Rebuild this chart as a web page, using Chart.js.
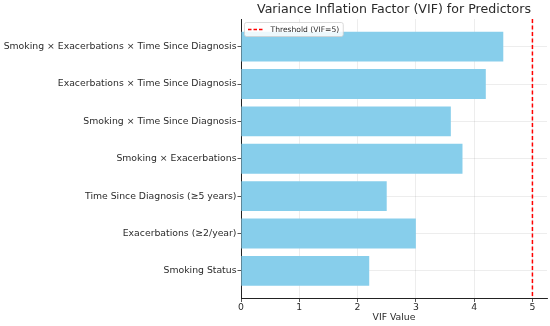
<!DOCTYPE html>
<html lang="en">
<head>
    <meta charset="UTF-8">
    <title>VIF for Predictors</title>
    <script src="https://cdn.jsdelivr.net/npm/chart.js"></script>
    <style>
        html, body {
            margin: 0;
            padding: 0;
            background: #fff;
        }
        .chart-box {
            width: 550px;
            height: 326px;
        }
    </style>
</head>
<body>

    <div class="chart-box">
        <canvas id="vifChart" width="550" height="326"></canvas>
    </div>

    <script>
        // data, bottom to top like the original plot
        const predictors = [
            'Smoking Status',
            'Exacerbations (≥2/year)',
            'Time Since Diagnosis (≥5 years)',
            'Smoking × Exacerbations',
            'Smoking × Time Since Diagnosis',
            'Exacerbations × Time Since Diagnosis',
            'Smoking × Exacerbations × Time Since Diagnosis'
        ];
        const vifValues = [2.2, 3.0, 2.5, 3.8, 3.6, 4.2, 4.5];
        const xTicks = [0, 1, 2, 3, 4, 5];
        const threshold = 5;
        const thresholdLabel = 'Threshold (VIF=5)';
        const chartTitle = 'Variance Inflation Factor (VIF) for Predictors';

        const FONT = 'DejaVu Sans';
        const TEXT = '#2b2b2b';

        // title centred over the axes + threshold line + legend box inside the plot
        const extras = {
            id: 'extras',
            afterDraw(chart) {
                const ctx = chart.ctx;
                const area = chart.chartArea;
                const x = chart.scales.x.getPixelForValue(threshold);

                ctx.save();
                // threshold line
                ctx.strokeStyle = '#ff0000';
                ctx.lineWidth = 1.5;
                ctx.setLineDash([4, 2.5]);
                ctx.beginPath();
                ctx.moveTo(x, area.top);
                ctx.lineTo(x, area.bottom);
                ctx.stroke();
                ctx.setLineDash([]);

                // title
                ctx.fillStyle = TEXT;
                ctx.font = '12.6px "' + FONT + '"';
                ctx.textAlign = 'center';
                ctx.textBaseline = 'middle';
                ctx.fillText(chartTitle, (area.left + area.right) / 2, 10);

                // legend
                ctx.font = '7.6px "' + FONT + '"';
                const lx = area.left + 3.5, ly = area.top + 3.5;
                const w = 27 + ctx.measureText(thresholdLabel).width + 3;
                const h = 14;
                ctx.fillStyle = 'rgba(255,255,255,0.85)';
                ctx.strokeStyle = '#d0d0d0';
                ctx.lineWidth = 0.8;
                ctx.beginPath();
                ctx.roundRect(lx, ly, w, h, 2);
                ctx.fill();
                ctx.stroke();

                ctx.strokeStyle = '#ff0000';
                ctx.lineWidth = 1.5;
                ctx.setLineDash([3.5, 2]);
                ctx.beginPath();
                ctx.moveTo(lx + 3.5, ly + h / 2);
                ctx.lineTo(lx + 19, ly + h / 2);
                ctx.stroke();

                ctx.setLineDash([]);
                ctx.fillStyle = TEXT;
                ctx.textAlign = 'left';
                ctx.fillText(thresholdLabel, lx + 26, ly + h / 2 + 0.5);
                ctx.restore();
            }
        };

        const ctx = document.getElementById('vifChart').getContext('2d');
        new Chart(ctx, {
            type: 'bar',
            data: {
                datasets: [{
                    label: 'VIF',
                    data: vifValues.map((v, i) => ({ x: v, y: i })),
                    backgroundColor: '#87ceeb',
                    borderWidth: 0,
                    barPercentage: 0.8,
                    categoryPercentage: 1
                }]
            },
            options: {
                indexAxis: 'y',
                responsive: false,
                animation: false,
                layout: {
                    padding: { top: 19, right: 3, left: 0, bottom: 0 }
                },
                scales: {
                    x: {
                        type: 'linear',
                        z: 1,
                        min: 0,
                        max: 5.25,
                        afterBuildTicks: s => { s.ticks = xTicks.map(v => ({ value: v })); },
                        afterFit: s => { s.height = 27.5; },
                        grid: {
                            color: 'rgba(0,0,0,0.09)',
                            lineWidth: 0.8,
                            borderDash: [2, 2],
                            tickColor: TEXT,
                            tickLength: 3.5,
                            tickBorderDash: []
                        },
                        border: { display: true, color: '#222', width: 1 },
                        ticks: {
                            color: TEXT,
                            padding: 0,
                            font: { family: FONT, size: 9.3 }
                        },
                        title: {
                            display: true,
                            text: 'VIF Value',
                            color: TEXT,
                            padding: { top: 1, bottom: 2.5 },
                            font: { family: FONT, size: 9.3 }
                        }
                    },
                    y: {
                        type: 'linear',
                        z: 1,
                        offset: false,
                        min: -0.74,
                        max: 6.74,
                        afterBuildTicks: s => { s.ticks = predictors.map((p, i) => ({ value: i })); },
                        afterFit: s => { s.width = 241; },
                        grid: {
                            offset: false,
                            color: 'rgba(0,0,0,0.09)',
                            lineWidth: 0.8,
                            borderDash: [2, 2],
                            tickColor: TEXT,
                            tickLength: 3.5,
                            tickBorderDash: []
                        },
                        border: { display: true, color: '#222', width: 1 },
                        ticks: {
                            color: TEXT,
                            padding: 1,
                            autoSkip: false,
                            font: { family: FONT, size: 9.3 },
                            callback: v => predictors[v]
                        }
                    }
                },
                plugins: {
                    legend: { display: false },
                    title: { display: false },
                    tooltip: { enabled: false }
                }
            },
            plugins: [extras]
        });
    </script>

</body>
</html>
